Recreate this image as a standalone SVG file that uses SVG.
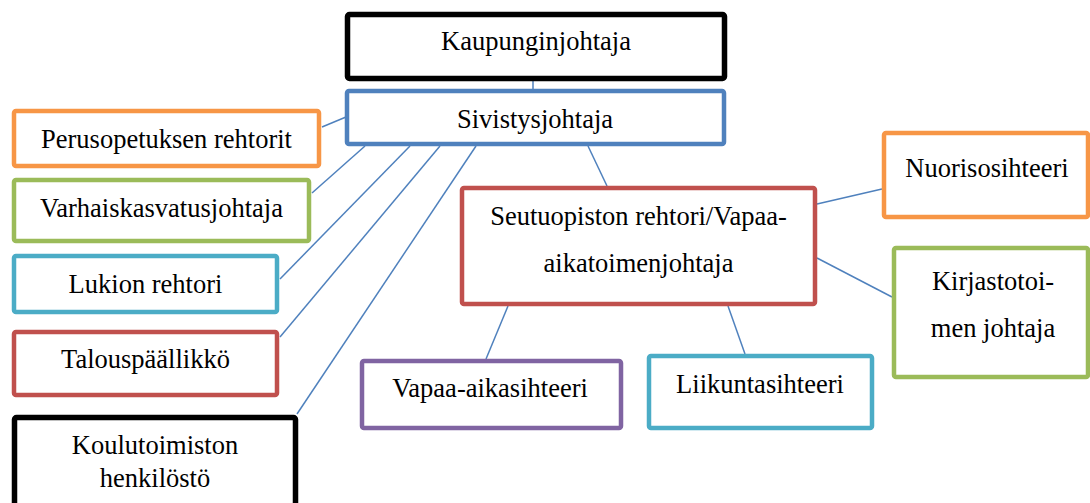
<svg xmlns="http://www.w3.org/2000/svg" width="1090" height="503" viewBox="0 0 1090 503">
<style>
.b{fill:#fff;stroke-width:4.5}
.k{stroke:#000;stroke-width:5.5}
.bl{stroke:#4F81BD}.rd{stroke:#C0504D}.gr{stroke:#9BBB59}.pu{stroke:#8064A2}.aq{stroke:#4BACC6}.or{stroke:#F79646}
.t{font-family:'Liberation Serif',serif;font-size:26.5px;fill:#000;text-anchor:middle}
#connectors line{stroke:#4F81BD;stroke-width:1.5}
</style>
<rect width="1090" height="503" fill="#fff"/>
<g id="connectors">
<line x1="533" y1="81" x2="533" y2="89"/>
<line x1="322" y1="127" x2="346" y2="117"/>
<line x1="312" y1="193" x2="365" y2="146"/>
<line x1="280" y1="279" x2="410" y2="146"/>
<line x1="280" y1="337" x2="440" y2="146"/>
<line x1="297" y1="414" x2="476" y2="146"/>
<line x1="588" y1="146" x2="607" y2="186"/>
<line x1="817" y1="204" x2="882" y2="189"/>
<line x1="817" y1="258" x2="892" y2="297"/>
<line x1="508" y1="306" x2="486" y2="359"/>
<line x1="728" y1="306" x2="745" y2="354"/>
</g>
<g id="kaupunginjohtaja"><rect class="b k" x="347.5" y="14.5" width="377" height="64" rx="2"/><text class="t" x="536" y="50">Kaupunginjohtaja</text></g>
<g id="sivistysjohtaja"><rect class="b bl" x="347" y="91" width="377" height="53" rx="2"/><text class="t" x="535" y="128">Sivistysjohtaja</text></g>
<g id="perusopetus"><rect class="b or" x="14" y="111" width="305" height="55" rx="2"/><text class="t" x="166.5" y="148">Perusopetuksen rehtorit</text></g>
<g id="varhaiskasvatus"><rect class="b gr" x="14" y="180" width="295" height="61" rx="2"/><text class="t" x="161.5" y="217">Varhaiskasvatusjohtaja</text></g>
<g id="lukio"><rect class="b aq" x="14" y="256" width="263" height="56" rx="2"/><text class="t" x="145.5" y="293">Lukion rehtori</text></g>
<g id="talous"><rect class="b rd" x="14" y="332" width="263" height="63" rx="2"/><text class="t" x="145.5" y="368">Talousp&#228;&#228;llikk&#246;</text></g>
<g id="koulutoimisto"><rect class="b k" x="14.5" y="417.5" width="281" height="100" rx="2"/><text class="t" x="155" y="454">Koulutoimiston</text><text class="t" x="155" y="487">henkil&#246;st&#246;</text></g>
<g id="seutuopisto"><rect class="b rd" x="462" y="188" width="353" height="116" rx="2"/><text class="t" x="638.5" y="225">Seutuopiston rehtori/Vapaa-</text><text class="t" x="638.5" y="272">aikatoimenjohtaja</text></g>
<g id="nuoriso"><rect class="b or" x="884" y="133" width="204" height="84" rx="2"/><text class="t" x="987" y="177">Nuorisosihteeri</text></g>
<g id="kirjasto"><rect class="b gr" x="894" y="248" width="194" height="129" rx="2"/><text class="t" x="993" y="290">Kirjastotoi-</text><text class="t" x="993" y="337">men johtaja</text></g>
<g id="vapaa"><rect class="b pu" x="362" y="361" width="259" height="67" rx="2"/><text class="t" x="490" y="397">Vapaa-aikasihteeri</text></g>
<g id="liikunta"><rect class="b aq" x="649" y="356" width="223" height="72" rx="2"/><text class="t" x="760" y="393">Liikuntasihteeri</text></g>
</svg>
